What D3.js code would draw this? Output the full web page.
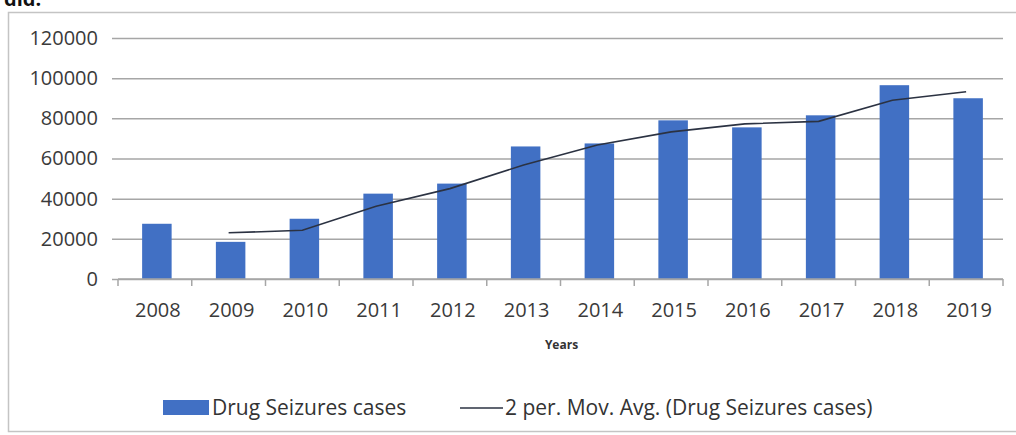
<!DOCTYPE html>
<html>
<head>
<meta charset="utf-8">
<script src="https://cdn.jsdelivr.net/npm/d3@7"></script>
<style>
  body { margin: 0; background: #fff; }
  svg { display: block; font-family: "Open Sans", sans-serif; }
</style>
</head>
<body>
<script>
const years = ["2008", "2009", "2010", "2011", "2012", "2013", "2014", "2015", "2016", "2017", "2018", "2019"];
const cases = [27500, 18500, 30000, 42500, 47500, 66000, 67500, 79000, 75500, 81500, 96500, 90000];
// 2 period moving average (no value for 2008)
const movAvg = [null, 23000, 24250, 36250, 45000, 56750, 66750, 73250, 77250, 78500, 89000, 93250];
const yTicks = [0, 20000, 40000, 60000, 80000, 100000, 120000];

const W = 1016, H = 435;
const margin = {top: 38, right: 13, bottom: 156, left: 118};
const width = W - margin.left - margin.right,
      height = H - margin.top - margin.bottom;

const svg = d3.select("body").append("svg")
    .attr("width", W)
    .attr("height", H);

// leftover text from the page above the chart
svg.append("text")
    .attr("x", 4).attr("y", 6)
    .attr("font-size", 20).attr("font-weight", "bold")
    .attr("fill", "#111")
    .text("did.");

// chart frame
svg.append("rect")
    .attr("x", 8.5).attr("y", 12.5)
    .attr("width", 1030).attr("height", 419)
    .attr("fill", "none")
    .attr("stroke", "#c4c4c4")
    .attr("stroke-width", 1.5);

const g = svg.append("g")
    .attr("transform", `translate(${margin.left},${margin.top})`);

const x = d3.scaleBand()
    .domain(years)
    .range([0, width])
    .paddingInner(0.6)
    .paddingOuter(0.3);

const xCat = d3.scaleBand()
    .domain(years)
    .range([0, width]);

const y = d3.scaleLinear()
    .domain([0, 120000])
    .range([height, 0]);

// grid + y labels
const yAxis = d3.axisLeft(y).tickValues(yTicks).tickSize(-width).tickPadding(20).tickFormat(d3.format("d"));
g.append("g")
    .call(yAxis)
    .call(a => a.select(".domain").remove())
    .call(a => a.selectAll(".tick line").attr("stroke", "#a6a6a6").attr("stroke-width", 1.5))
    .call(a => a.selectAll(".tick line").attr("x1", -6))
    .call(a => a.selectAll("text").attr("font-size", 20).attr("fill", "#3a3a3a").attr("font-family", "Open Sans"));

// bars
g.selectAll(".bar")
    .data(years)
    .enter().append("rect")
    .attr("class", "bar")
    .attr("x", d => x(d) + 2)
    .attr("y", (d, i) => y(cases[i]))
    .attr("width", x.bandwidth())
    .attr("height", (d, i) => height - y(cases[i]))
    .attr("fill", "#4170c4");

// x axis
const xAxisG = g.append("g")
    .attr("transform", `translate(0,${height})`);
xAxisG.append("line")
    .attr("x1", 0).attr("x2", width)
    .attr("stroke", "#a6a6a6").attr("stroke-width", 1.5);
xAxisG.selectAll(".tk")
    .data(years.concat(["end"]))
    .enter().append("line")
    .attr("x1", (d, i) => i < years.length ? xCat(d) : width)
    .attr("x2", (d, i) => i < years.length ? xCat(d) : width)
    .attr("y1", 0).attr("y2", 7)
    .attr("stroke", "#a6a6a6").attr("stroke-width", 1.5);
xAxisG.selectAll(".lbl")
    .data(years)
    .enter().append("text")
    .attr("x", d => xCat(d) + xCat.bandwidth() / 2 + 3)
    .attr("y", 38)
    .attr("text-anchor", "middle")
    .attr("font-size", 20)
    .attr("fill", "#3a3a3a")
    .text(d => d);

g.append("text")
    .attr("x", width / 2 + 1)
    .attr("y", height + 70)
    .attr("text-anchor", "middle")
    .attr("font-size", 12)
    .attr("font-weight", "bold")
    .attr("fill", "#333")
    .text("Years");

// moving average line
const line = d3.line()
    .defined(d => d.v != null)
    .x(d => xCat(d.year) + xCat.bandwidth() / 2)
    .y(d => y(d.v));
g.append("path")
    .datum(years.map((yr, i) => ({year: yr, v: movAvg[i]})))
    .attr("d", line)
    .attr("fill", "none")
    .attr("stroke", "#2b3242")
    .attr("stroke-width", 1.6);

// legend
const leg = svg.append("g").attr("transform", "translate(0,408)");
leg.append("rect")
    .attr("x", 163).attr("y", -8)
    .attr("width", 46).attr("height", 15)
    .attr("fill", "#4170c4");
leg.append("text")
    .attr("x", 212).attr("y", 7)
    .attr("font-size", 21).attr("fill", "#333")
    .text("Drug Seizures cases");
leg.append("line")
    .attr("x1", 460).attr("x2", 503)
    .attr("y1", 0).attr("y2", 0)
    .attr("stroke", "#2b3242").attr("stroke-width", 1.6);
leg.append("text")
    .attr("x", 505).attr("y", 7)
    .attr("font-size", 21).attr("fill", "#333")
    .text("2 per. Mov. Avg. (Drug Seizures cases)");
</script>
</body>
</html>
